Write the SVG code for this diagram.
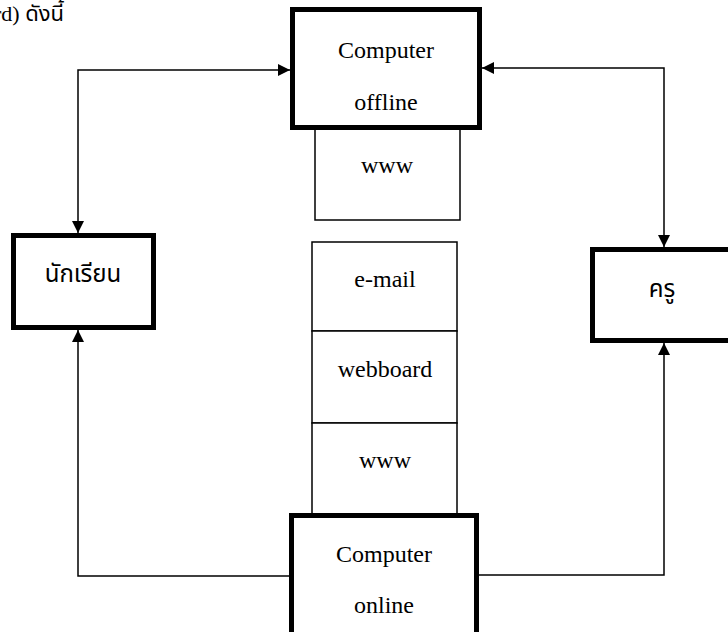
<svg xmlns="http://www.w3.org/2000/svg" width="728" height="632" viewBox="0 0 728 632">
<defs>
<marker id="arr" viewBox="0 0 12 12" refX="12" refY="6" markerWidth="12" markerHeight="12" markerUnits="userSpaceOnUse" orient="auto-start-reverse">
<path d="M0,0 L12,6 L0,12 Z" fill="#000"/>
</marker>
<style>
.thick{fill:#fff;stroke:#000;stroke-width:5}
.thin{fill:#fff;stroke:#000;stroke-width:1.5}
.t{font-family:"Liberation Serif","Noto Sans Thai","DejaVu Sans",serif;font-size:24px;fill:#000;text-anchor:middle}
.c{fill:none;stroke:#000;stroke-width:1.5}
</style>
</defs>
<rect width="728" height="632" fill="#fff"/>
<text x="-6" y="21" font-family="Liberation Serif, Noto Sans Thai, serif" font-size="22">rd) ดังนี้</text>
<g id="connectors">
<path class="c" d="M78,233 L78,70 L290,70" marker-start="url(#arr)" marker-end="url(#arr)"/>
<path class="c" d="M482,68 L664,68 L664,247" marker-start="url(#arr)" marker-end="url(#arr)"/>
<path class="c" d="M291,576 L78,576 L78,330" marker-end="url(#arr)"/>
<path class="c" d="M479,575 L664,575 L664,343" marker-end="url(#arr)"/>
</g>
<g id="www-offline">
<rect class="thin" x="315" y="120" width="145" height="100"/>
<text class="t" x="387" y="173">www</text>
</g>
<g id="computer-offline">
<rect class="thick" x="292.5" y="9.5" width="187" height="118"/>
<text class="t" x="386" y="58">Computer</text>
<text class="t" x="386" y="110">offline</text>
</g>
<g id="email">
<rect class="thin" x="312" y="242" width="145" height="89"/>
<text class="t" x="385" y="287">e-mail</text>
</g>
<g id="webboard">
<rect class="thin" x="312" y="331" width="145" height="92"/>
<text class="t" x="385" y="377">webboard</text>
</g>
<g id="www-online">
<rect class="thin" x="312" y="423" width="145" height="95"/>
<text class="t" x="385" y="468">www</text>
</g>
<g id="computer-online">
<rect class="thick" x="291.5" y="515.5" width="185" height="130"/>
<text class="t" x="384" y="562">Computer</text>
<text class="t" x="384" y="613">online</text>
</g>
<g id="student">
<rect class="thick" x="13.5" y="235.5" width="140" height="92"/>
<text class="t" x="83" y="282">นักเรียน</text>
</g>
<g id="teacher">
<rect class="thick" x="592.5" y="249.5" width="145" height="91"/>
<text class="t" x="662" y="297">ครู</text>
</g>
</svg>
